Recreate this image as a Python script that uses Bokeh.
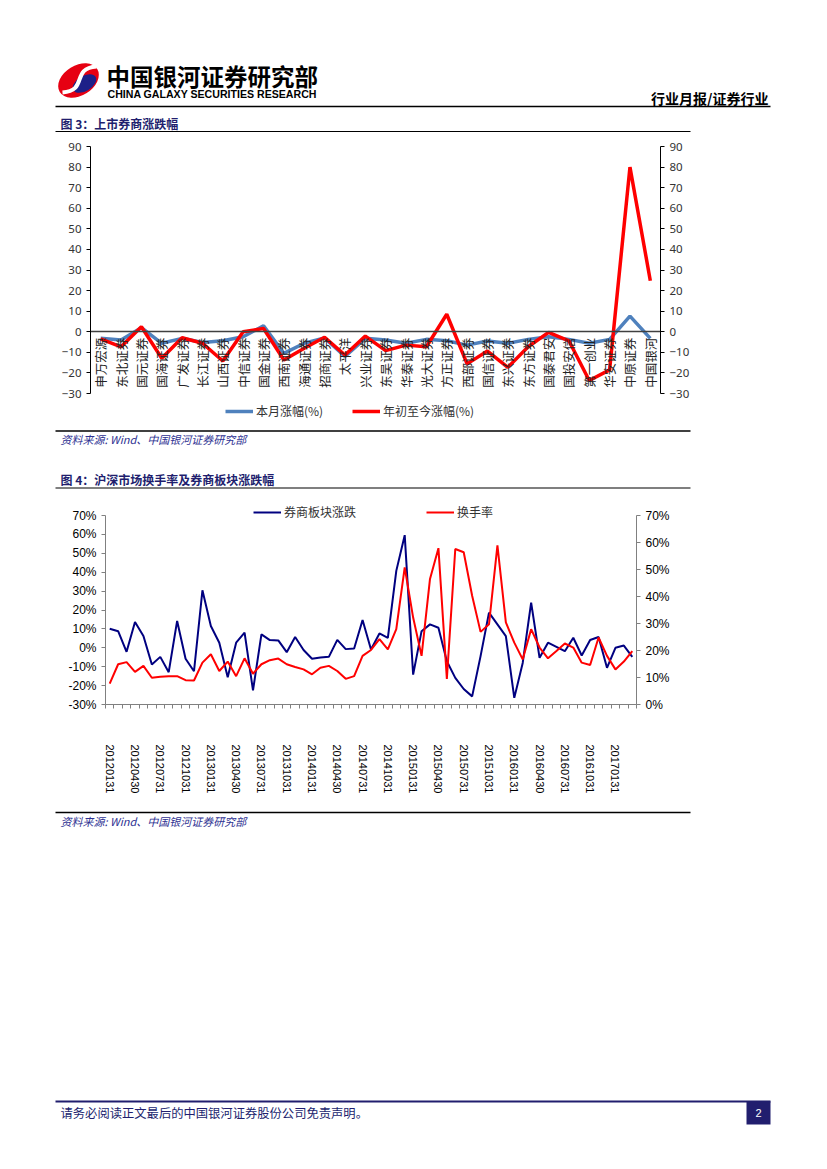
import math
from bokeh.plotting import figure
from bokeh.models import (Range1d, LinearAxis, FixedTicker, Legend, LegendItem,
                          Label, BoxAnnotation, PrintfTickFormatter)
from bokeh.embed import file_html
from bokeh.resources import INLINE

# ---------------- data ----------------
brokers = ["申万宏源", "东北证券", "国元证券", "国海证券", "广发证券", "长江证券", "山西证券",
           "中信证券", "国金证券", "西南证券", "海通证券", "招商证券", "太平洋", "兴业证券",
           "东吴证券", "华泰证券", "光大证券", "方正证券", "西部证券", "国信证券", "东兴证券",
           "东方证券", "国泰君安", "国投安信", "第一创业", "华安证券", "中原证券", "中国银河"]
month_chg = [-3.2, -4.0, 2.0, -5.6, -3.2, -5.2, -4.4, -2.4, 2.9, -10.5, -5.6, -3.0, -12.0, -3.2,
             -4.0, -5.6, -3.7, -4.4, -6.5, -4.5, -5.6, -3.7, -2.4, -3.7, -5.6, -3.7, 7.6, -3.2]
ytd_chg = [-3.5, -7.3, 2.4, -12.9, -2.9, -5.6, -14.2, 0.0, 1.6, -13.7, -8.0, -2.7, -11.3, -2.1,
           -9.2, -6.5, -7.3, 8.5, -15.6, -9.4, -17.3, -7.3, -0.3, -4.4, -23.7, -18.5, 80.0, 24.8]

sector_chg = [10.1, 8.8, -2.1, 13.6, 6.2, -8.8, -4.8, -12.9, 14.2, -5.8, -12.4, 30.4, 11.5, 2.7,
              -15.6, 2.7, 8.0, -22.5, 7.1, 4.1, 3.9, -2.3, 5.7, -1.2, -5.8, -5.1, -4.8, 4.2,
              -0.7, -0.4, 14.7, -0.9, 7.6, 5.3, 40.7, 59.6, -14.2, 8.8, 12.4, 10.6, -7.1, -15.9,
              -21.8, -25.7, -4.4, 18.6, 12.4, 6.2, -26.5, -8.0, 23.9, -5.3, 2.7, 0.5, -1.8, 5.3,
              -4.1, 4.1, 5.7, -10.6, 0.0, 1.2, -4.8]
turnover = [7.7, 14.9, 15.7, 12.1, 14.3, 9.9, 10.3, 10.5, 10.5, 9.0, 8.9, 15.5, 18.6, 12.4, 15.9,
            10.5, 17.1, 11.4, 14.9, 16.4, 17.0, 14.9, 13.9, 13.0, 11.2, 13.6, 14.3, 12.4, 9.5,
            10.5, 18.0, 20.2, 24.2, 20.4, 27.9, 50.8, 32.2, 18.0, 46.5, 57.9, 9.5, 57.6, 56.4,
            40.3, 26.9, 29.7, 58.9, 30.4, 22.9, 16.7, 27.9, 21.1, 17.1, 19.8, 22.6, 21.1, 15.5,
            14.6, 24.8, 18.0, 13.0, 15.9, 19.8]
date_labels = ["20120131", "20120430", "20120731", "20121031", "20130131", "20130430",
               "20130731", "20131031", "20140131", "20140430", "20140731", "20141031",
               "20150131", "20150430", "20150731", "20151031", "20160131", "20160430",
               "20160731", "20161031", "20170131"]
label_step = 3  # months between date labels

NAVY = "#211E6E"
CJK = "Noto Sans CJK SC"
PW, PH = 827, 1169

# one page-sized figure; default ranges are page pixels
p = figure(width=PW, height=PH, x_range=Range1d(0, PW), y_range=Range1d(PH, 0),
           x_axis_location=None, y_axis_location=None, min_border=0,
           outline_line_color=None, output_backend="svg", toolbar_location=None)
p.grid.visible = False


def xmap(L, R, n):
    k = n / (R - L)
    return Range1d(-0.5 - L * k, -0.5 + (PW - L) * k)


def ymap(T, B, vmin, vmax):
    k = (vmax - vmin) / (B - T)
    return Range1d(vmin - (PH - B) * k, vmax + T * k)


def rule(x0, x1, y, h, color="black"):
    p.add_layout(BoxAnnotation(left=x0, right=x1, top=y - h / 2, bottom=y + h / 2,
                               fill_color=color, fill_alpha=1, line_color=None))


def lab(x, y, text, size, color="black", font=CJK, style="normal", align="left"):
    p.add_layout(Label(x=x, y=y, text=text, text_font=font, text_font_size=size,
                       text_color=color, text_font_style=style, text_align=align,
                       text_baseline="middle"))


def style_axis(ax, color, font, size):
    ax.axis_line_color = color
    ax.major_tick_line_color = color
    ax.major_tick_out = 4
    ax.major_tick_in = 0
    ax.minor_tick_line_color = None
    ax.major_label_standoff = 5
    ax.major_label_text_font = font
    ax.major_label_text_font_size = size


def add_legend(item, x, y):
    lg = Legend(items=[item], location=(x, PH - y), orientation="horizontal", padding=0,
                margin=0, border_line_color=None, background_fill_alpha=0, glyph_width=28,
                glyph_height=14, label_height=14, label_standoff=3, label_text_font=CJK,
                label_text_font_size="12px", label_text_color="#333333",
                label_text_baseline="middle")
    p.add_layout(lg)


# ---------------- header ----------------
p.ellipse(x=[78], y=[80], width=[44], height=[30], angle=[0.55], fill_color="#E60012",
          line_color=None)
p.ellipse(x=[84], y=[83], width=[26], height=[15], angle=[0.55], fill_color="#1D2088",
          line_color=None)
p.bezier(x0=[62], y0=[92], x1=[96], y1=[66], cx0=[88], cy0=[90], cx1=[70], cy1=[68],
         line_color="white", line_width=4)
lab(106, 75, "中国银河证券研究部", "23.5px", "black", CJK, "bold")
lab(107, 93, "CHINA GALAXY SECURITIES RESEARCH", "10.6px", "black", "Liberation Sans", "bold")
lab(768, 97, "行业月报/证券行业", "14px", "black", CJK, "bold", "right")
rule(55, 770, 106, 1.6)
lab(60, 123, "图 3：上市券商涨跌幅", "12px", NAVY, CJK, "bold")
rule(55, 690, 131, 1.2)

# ---------------- chart 1 ----------------
n1 = len(brokers)
idx1 = list(range(n1))
p.extra_x_ranges["c1x"] = xmap(90, 660, n1)
p.extra_y_ranges["c1y"] = ymap(146, 393, -30, 90)
ticks1 = list(range(-30, 91, 10))
for side, loc in (("left", 90), ("right", 660)):
    ax = LinearAxis(y_range_name="c1y", fixed_location=loc, bounds=(-30, 90),
                    ticker=FixedTicker(ticks=ticks1))
    style_axis(ax, "black", "Noto Sans", "11.5px")
    ax.major_label_text_color = "#333333"
    p.add_layout(ax, side)
cat_ax = LinearAxis(x_range_name="c1x", y_range_name="c1y", fixed_location=0,
                    bounds=(-0.5, n1 - 0.5), ticker=FixedTicker(ticks=idx1),
                    major_label_overrides={i: b for i, b in zip(idx1, brokers)})
cat_ax.axis_line_color = "#404040"
cat_ax.axis_line_width = 1.5
cat_ax.major_tick_line_color = None
cat_ax.major_tick_out = 0
cat_ax.major_tick_in = 0
cat_ax.minor_tick_line_color = None
cat_ax.major_label_orientation = math.pi / 2
cat_ax.major_label_standoff = 6
cat_ax.major_label_text_font = CJK
cat_ax.major_label_text_font_size = "12.5px"
cat_ax.major_label_text_color = "#222222"
p.add_layout(cat_ax, "below")
r_m = p.line(idx1, month_chg, x_range_name="c1x", y_range_name="c1y",
             line_color="#4F81BD", line_width=3.5)
r_y = p.line(idx1, ytd_chg, x_range_name="c1x", y_range_name="c1y",
             line_color="#FF0000", line_width=3.5)
add_legend(LegendItem(label="本月涨幅(%)", renderers=[r_m]), 225, 419)
add_legend(LegendItem(label="年初至今涨幅(%)", renderers=[r_y]), 352, 419)

# ---------------- middle texts ----------------
rule(55, 690, 430.5, 1.4)
lab(60, 438, "资料来源: Wind、中国银河证券研究部", "11px", "#2E3192", CJK, "italic")
lab(60, 479, "图 4：沪深市场换手率及券商板块涨跌幅", "12px", NAVY, CJK, "bold")
rule(55, 690, 487.5, 1.2)

# ---------------- chart 2 ----------------
n2 = len(sector_chg)
idx2 = list(range(n2))
p.extra_x_ranges["c2x"] = xmap(105, 636, n2)
p.extra_y_ranges["c2l"] = ymap(515, 704, -30, 70)
p.extra_y_ranges["c2r"] = ymap(515, 704, 0, 70)
for side, rng, loc, lo in (("left", "c2l", 105, -30), ("right", "c2r", 636, 0)):
    ax = LinearAxis(y_range_name=rng, fixed_location=loc, bounds=(lo, 70),
                    ticker=FixedTicker(ticks=list(range(lo, 71, 10))),
                    formatter=PrintfTickFormatter(format="%d%%"))
    style_axis(ax, "#808080", "Liberation Sans", "12px")
    ax.major_label_text_color = "black"
    p.add_layout(ax, side)
major = [i * label_step for i in range(len(date_labels))]
xa = LinearAxis(x_range_name="c2x", fixed_location=704, bounds=(-0.5, n2 - 0.5),
                ticker=FixedTicker(ticks=major, minor_ticks=[i - 0.5 for i in range(n2 + 1)]),
                major_label_overrides={m: d for m, d in zip(major, date_labels)})
xa.axis_line_color = "#808080"
xa.major_tick_line_color = None
xa.major_tick_out = 0
xa.major_tick_in = 0
xa.minor_tick_line_color = "#808080"
xa.minor_tick_out = 4
xa.minor_tick_in = 0
xa.major_label_orientation = -math.pi / 2
xa.major_label_standoff = 36
xa.major_label_text_font = "Liberation Sans"
xa.major_label_text_font_size = "11px"
xa.major_label_text_color = "black"
p.add_layout(xa, "below")
r_s = p.line(idx2, sector_chg, x_range_name="c2x", y_range_name="c2l",
             line_color="#000080", line_width=2)
r_t = p.line(idx2, turnover, x_range_name="c2x", y_range_name="c2r",
             line_color="#FF0000", line_width=2)
add_legend(LegendItem(label="券商板块涨跌", renderers=[r_s]), 253, 520)
add_legend(LegendItem(label="换手率", renderers=[r_t]), 426, 520)

# ---------------- bottom ----------------
rule(55, 690, 812, 1.4)
lab(60, 820, "资料来源: Wind、中国银河证券研究部", "11px", "#2E3192", CJK, "italic")
rule(55, 770, 1101, 2, NAVY)
lab(60, 1112, "请务必阅读正文最后的中国银河证券股份公司免责声明。", "12.3px", NAVY, CJK)
p.add_layout(BoxAnnotation(left=746, right=770, top=1101, bottom=1124, fill_color=NAVY,
                           fill_alpha=1, line_color=None))
lab(758, 1112.5, "2", "11px", "white", "Liberation Sans", "normal", "center")

open("out.html", "w").write(file_html(p, INLINE))
